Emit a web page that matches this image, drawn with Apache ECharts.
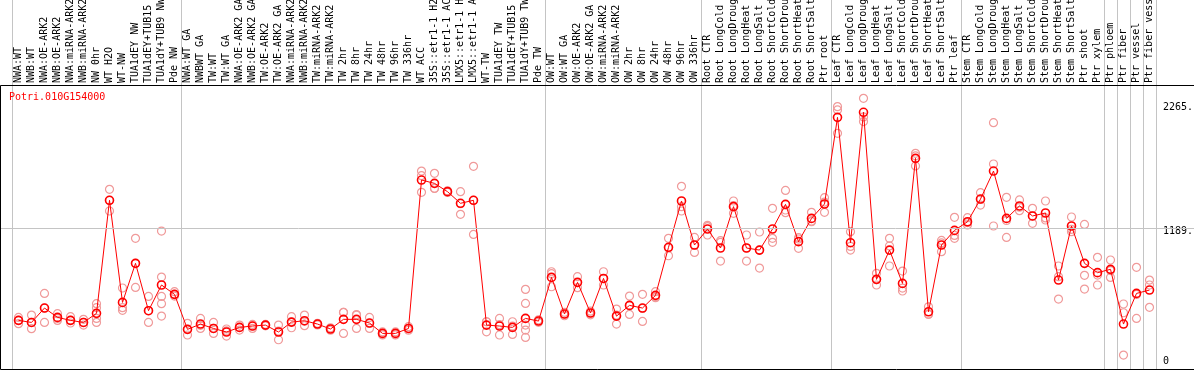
<!DOCTYPE html>
<html>
<head>
<meta charset="utf-8">
<script src="https://cdn.jsdelivr.net/npm/echarts@6/dist/echarts.min.js"></script>
<style>
  html, body { margin: 0; padding: 0; background: #fff; }
  #chart { width: 1194px; height: 370px; }
</style>
</head>
<body>
<div id="chart"></div>
<script>
const geneId = 'Potri.010G154000';

const categories = [
  'NWA:WT','NWB:WT','NWA:OE-ARK2','NWB:OE-ARK2','NWA:miRNA-ARK2','NWB:miRNA-ARK2','NW 0hr','WT H2O','WT-NW',
  'TUA1dEY NW','TUA1dEY+TUB15 NW','TUA1dY+TUB9 NW','Pde NW',
  'NWA:WT GA','NWBWT GA','TW:WT','TW:WT GA','NWA:OE-ARK2 GA','NWB:OE-ARK2 GA','TW:OE-ARK2','TW:OE-ARK2 GA',
  'NWA:miRNA-ARK2 GA','NWB:miRNA-ARK2 GA','TW:miRNA-ARK2','TW:miRNA-ARK2 GA','TW 2hr','TW 8hr','TW 24hr','TW 48hr',
  'TW 96hr','TW 336hr','WT ACC','35S::etr1-1 H2O','35S::etr1-1 ACC','LMX5::etr1-1 H2O','LMX5::etr1-1 ACC','WT-TW',
  'TUA1dEY TW','TUA1dEY+TUB15 TW','TUA1dY+TUB9 TW','Pde TW',
  'OW:WT','OW:WT GA','OW:OE-ARK2','OW:OE-ARK2 GA','OW:miRNA-ARK2','OW:miRNA-ARK2 GA','OW 2hr','OW 8hr','OW 24hr',
  'OW 48hr','OW 96hr','OW 336hr',
  'Root CTR','Root LongCold','Root LongDrought','Root LongHeat','Root LongSalt','Root ShortCold','Root ShortDrought',
  'Root ShortHeat','Root ShortSalt','Ptr root',
  'Leaf CTR','Leaf LongCold','Leaf LongDrought','Leaf LongHeat','Leaf LongSalt','Leaf ShortCold','Leaf ShortDrought',
  'Leaf ShortHeat','Leaf ShortSalt','Ptr leaf',
  'Stem CTR','Stem LongCold','Stem LongDrought','Stem LongHeat','Stem LongSalt','Stem ShortCold','Stem ShortDrought',
  'Stem ShortHeat','Stem ShortSalt','Ptr shoot',
  'Ptr xylem','Ptr phloem','Ptr fiber','Ptr vessel','Ptr fiber vessel'
];

const means = [
  390,372,497,416,390,372,451,1432,546,885,474,697,616,
  312,358,320,289,329,341,349,289,375,387,358,315,399,399,367,277,277,320,
  1608,1579,1507,1406,1432,349,341,329,407,384,
  763,445,720,454,754,427,520,497,607,1024,1426,1044,
  1183,1018,1377,1018,1000,1183,1397,1073,1275,1400,
  2152,1064,2196,746,1000,711,1796,465,1044,1171,
  1246,1443,1686,1275,1383,1296,1322,740,1209,885,
  804,833,358,624,653
];

const replicates = [
  [416,390,361],[436,372,318],[624,497,372],[448,407,390],[422,390,367],[399,372,349],[535,500,407,372],
  [1527,1432,1339],[671,500,477],[1102,885,676],[598,474,372],[1165,766,598,535,427],[639,616,601],
  [364,312,263],[407,347,320],[372,320,277],[315,298,254],[349,330,306],[355,341,320],[355,349,343],
  [349,296,222],[422,375,326],[436,382,344],[365,358,350],[325,315,305],[459,460,277],[436,441,320],
  [416,365,320],[290,277,264],[290,277,264],[335,320,305],
  [1686,1646,1501],[1666,1536,1535],[1515,1507,1500],[1507,1402,1310],[1727,1432,1136],[378,378,291],
  [407,353,263],[378,341,268],[659,537,349,306,242],[395,384,373],
  [812,795,682],[460,445,430],[769,717,674],[470,454,438],[812,753,697],[488,435,358],[601,517,442],
  [616,494,381],[639,595,587],[1102,1019,951],[1553,1377,1339],[1110,1042,980],
  [1203,1215,1131],[1082,1067,905],[1426,1386,1319],[1131,1018,905],[1157,999,844],[1362,1102,1067],
  [1518,1348,1325],[1108,1096,1015],[1328,1251,1246],[1455,1417,1328],
  [2245,2216,2013],[1160,1032,1000],[2317,2156,2115],[798,743,697],[1102,1036,862],[818,670,645],
  [1840,1818,1730],[508,445,442],[1084,1062,986],[1284,1127,1102],
  [1281,1239,1218],[1498,1440,1391],[2106,1747,1209],[1458,1257,1110],[1435,1372,1342],[1362,1294,1232],
  [1426,1279,1261],[862,769,575],[1287,1180,1160],[1223,781,662],
  [937,783,697],[914,822,763],[532,456,89],[850,615,407],[740,697,503]
];

// categories that start a new group (a grey separator is drawn on their left edge)
const groupStarts = [0,13,41,53,63,73,84,85,86,87];
const yTickValues = [0,1189,2265];
const gridLineValue = 1189;

const Y_MIN = -32, Y_MAX = 2424;
const MONO = "'DejaVu Sans Mono', monospace";
const SEP_COLOR = '#c4c4c4';

const repData = [];
replicates.forEach((arr, i) => arr.forEach(v => repData.push([i, v])));

const sepInterval = (idx) => groupStarts.indexOf(idx) >= 0;

const chart = echarts.init(document.getElementById('chart'), null, { renderer: 'canvas' });
chart.setOption({
  animation: false,
  backgroundColor: '#fff',
  title: {
    text: geneId, left: 9, top: 92, padding: 0,
    textStyle: { color: '#ff0000', fontFamily: MONO, fontSize: 10, fontWeight: 'normal' }
  },
  grid: [
    { left: 12, width: 1144, top: 0, height: 85, outerBoundsMode: 'none', containLabel: false },
    { left: 12, width: 1144, top: 86, height: 283, outerBoundsMode: 'none', containLabel: false },
    { left: 0, right: 0, top: 86, height: 283, outerBoundsMode: 'none', containLabel: false }
  ],
  xAxis: [
    {
      type: 'category', gridIndex: 0, data: categories, position: 'bottom', boundaryGap: true,
      axisLine: { show: false }, axisTick: { show: false },
      axisLabel: { inside: true, rotate: 90, interval: 0, margin: 2, color: '#000', fontFamily: MONO, fontSize: 10 },
      splitLine: { show: true, interval: sepInterval, lineStyle: { color: SEP_COLOR, width: 1 } }
    },
    {
      type: 'category', gridIndex: 1, data: categories, boundaryGap: true,
      axisLine: { show: false }, axisTick: { show: false }, axisLabel: { show: false },
      splitLine: { show: true, interval: sepInterval, lineStyle: { color: SEP_COLOR, width: 1 } }
    },
    {
      type: 'value', gridIndex: 2, min: 0, max: 1, show: false
    }
  ],
  yAxis: [
    { type: 'value', gridIndex: 0, show: false },
    { type: 'value', gridIndex: 1, min: Y_MIN, max: Y_MAX, show: false },
    {
      type: 'value', gridIndex: 2, min: Y_MIN, max: Y_MAX, position: 'right',
      axisLine: { show: false }, axisTick: { show: false }, splitLine: { show: false },
      axisLabel: {
        show: true, inside: true, margin: 31, align: 'left',
        customValues: yTickValues,
        formatter: (v) => v === 0 ? '{z|0}' : '{n|' + v + '.}',
        rich: {
          n: { fontFamily: MONO, fontSize: 10, color: '#000', padding: [7, 0, 0, 0] },
          z: { fontFamily: MONO, fontSize: 10, color: '#000', padding: [0, 0, 7, 0] }
        }
      }
    }
  ],
  series: [
    {
      type: 'line', xAxisIndex: 2, yAxisIndex: 2, data: [], silent: true, z: 1,
      markLine: {
        silent: true, symbol: 'none', label: { show: false },
        lineStyle: { color: SEP_COLOR, type: 'solid', width: 1 },
        data: [{ yAxis: gridLineValue }]
      }
    },
    {
      name: 'replicates', type: 'scatter', xAxisIndex: 1, yAxisIndex: 1, data: repData, z: 2,
      symbol: 'circle', symbolSize: 8,
      itemStyle: { color: 'rgba(0,0,0,0)', borderColor: '#f09a9a', borderWidth: 1.2, opacity: 1 }
    },
    {
      name: 'mean', type: 'line', xAxisIndex: 1, yAxisIndex: 1, data: means, z: 3,
      symbol: 'circle', symbolSize: 8, showSymbol: true,
      lineStyle: { color: '#ff0000', width: 1 },
      itemStyle: { color: 'rgba(0,0,0,0)', borderColor: '#ff0000', borderWidth: 1.6 }
    }
  ],
  graphic: [
    {
      type: 'rect', z: 100, silent: true,
      shape: { x: 0.5, y: 85.5, width: 1200, height: 284 },
      style: { fill: null, stroke: '#000', lineWidth: 1 }
    }
  ]
});
</script>
</body>
</html>
